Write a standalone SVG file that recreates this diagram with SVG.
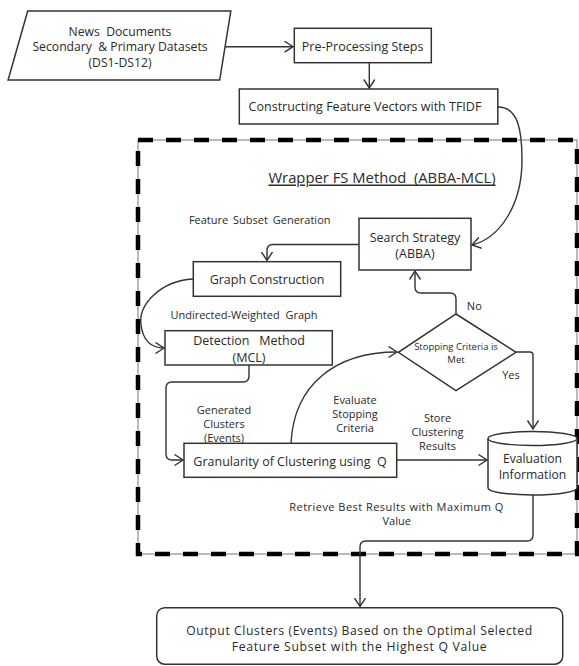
<svg xmlns="http://www.w3.org/2000/svg" width="579" height="666" viewBox="0 0 579 666">
<style>
text{font-family:"Open Sans","Noto Sans",sans-serif;fill:#2a2a2a;text-anchor:middle;dominant-baseline:central}
.b{font-size:12.5px}
.s{font-size:11px}
.d{font-size:9.5px}
.box{fill:#fff;stroke:#333;stroke-width:1.5}
.c{fill:none;stroke:#333;stroke-width:1.4}
</style>
<defs>
<marker id="a" markerUnits="userSpaceOnUse" markerWidth="12" markerHeight="14" refX="9" refY="6" orient="auto">
<path d="M0.5,0.5 L9,6 L0.5,11.5" fill="none" stroke="#333" stroke-width="1.4"/>
</marker>
</defs>
<rect fill="#fff" width="579" height="666"/>
<g id="wrapper-border">
<rect x="138" y="140" width="439" height="414" fill="none" stroke="#777" stroke-width="1"/>
<rect x="138" y="140" width="439" height="414" fill="none" stroke="#000" stroke-width="4.5" stroke-dasharray="15 13"/>
<text x="382" y="176.5" xml:space="preserve" style="font-size:14.8px;text-decoration:underline">Wrapper FS Method  (ABBA-MCL)</text>
</g>
<g id="connectors">
<path class="c" d="M221.5,46.7 H293" marker-end="url(#a)"/>
<path class="c" d="M369.3,62.7 V88" marker-end="url(#a)"/>
<path class="c" d="M498,107 C518,107 522,130 522,160 C522,205 500,238 472,245" marker-end="url(#a)"/>
<path class="c" d="M359,244.5 H273 Q267,244.5 267,250.5 V260.5" marker-end="url(#a)"/>
<path class="c" d="M193,279 C160,281 138,305 141,325 C143,340 150,348 164,348" marker-end="url(#a)"/>
<path class="c" d="M249,365 V376 Q249,382 243,382 H172 Q166,382 166,388 V454 Q166,460 172,460 H183" marker-end="url(#a)"/>
<path class="c" d="M291,443 C294,385 335,352 397,352" marker-end="url(#a)"/>
<path class="c" d="M397,460 H487" marker-end="url(#a)"/>
<path class="c" d="M456,314 V299 Q456,293 450,293 H421 Q415,293 415,287 V271" marker-end="url(#a)"/>
<path class="c" d="M516,352 H530 Q533,352 533,355 V429" marker-end="url(#a)"/>
<path class="c" d="M533,495 V535 Q533,541 527,541 H366 Q360,541 360,547 V606.5" marker-end="url(#a)"/>
</g>
<g id="news-documents">
<polygon class="box" points="27.7,11 230.8,11 219.7,80 8.1,80"/>
<text x="120" y="31" xml:space="preserve" style="font-size:12.2px">News  Documents</text>
<text x="120" y="46.7" xml:space="preserve" style="font-size:12.2px">Secondary  &amp; Primary Datasets</text>
<text x="120" y="62.4" style="font-size:12.2px">(DS1-DS12)</text>
</g>
<g id="pre-processing">
<rect class="box" x="294.3" y="28.3" width="137" height="34.4"/>
<text class="b" x="362.6" y="46.2">Pre-Processing Steps</text>
</g>
<g id="feature-vectors">
<rect class="box" x="239.3" y="89" width="258.5" height="35"/>
<text class="b" x="365" y="106.5">Constructing Feature Vectors with TFIDF</text>
</g>
<g id="search-strategy">
<rect class="box" x="359" y="218.3" width="112" height="51.7"/>
<text class="b" x="415" y="237">Search Strategy</text>
<text class="b" x="415" y="253.5">(ABBA)</text>
</g>
<g id="label-feature-subset">
<text class="s" x="259.7" y="219.3" style="word-spacing:2px">Feature Subset Generation</text>
</g>
<g id="graph-construction">
<rect class="box" x="193.3" y="261.7" width="147.4" height="34.6"/>
<text class="b" x="267" y="279">Graph Construction</text>
</g>
<g id="label-undirected">
<text class="s" x="244" y="314" style="word-spacing:3px">Undirected-Weighted  Graph</text>
</g>
<g id="detection-method">
<rect class="box" x="165" y="330.7" width="167.3" height="34.3"/>
<text class="b" x="249" y="340.5" xml:space="preserve">Detection   Method</text>
<text class="b" x="249" y="357.3">(MCL)</text>
</g>
<g id="stopping-criteria">
<polygon class="box" points="456,314 516,352.3 456,390.7 398.3,352.3"/>
<text class="d" x="456" y="346.8">Stopping Criteria is</text>
<text class="d" x="456" y="359.3">Met</text>
</g>
<g id="label-no"><text class="s" x="474.3" y="305.7">No</text></g>
<g id="label-yes"><text class="s" x="511" y="374">Yes</text></g>
<g id="label-generated">
<text class="s" x="224" y="409.3">Generated</text>
<text class="s" x="224" y="423.3">Clusters</text>
<text class="s" x="224" y="437.3">(Events)</text>
</g>
<g id="label-evaluate">
<text class="s" x="355" y="399.3">Evaluate</text>
<text class="s" x="355" y="413.3">Stopping</text>
<text class="s" x="355" y="427.3">Criteria</text>
</g>
<g id="label-store">
<text class="s" x="437.5" y="417.2">Store</text>
<text class="s" x="437.5" y="431.5">Clustering</text>
<text class="s" x="437.5" y="445.5">Results</text>
</g>
<g id="granularity">
<rect class="box" x="184" y="443.3" width="212.7" height="34"/>
<text class="b" x="290" y="461.2" xml:space="preserve">Granularity of Clustering using  Q</text>
</g>
<g id="evaluation-information">
<path class="box" d="M488,438.5 A44.5,7 0 0,1 577,438.5 V488 A44.5,7 0 0,1 488,488 Z"/>
<path class="c" d="M488,438.5 A44.5,7 0 0,0 577,438.5"/>
<text x="532.5" y="458.6" style="font-size:12.2px">Evaluation</text>
<text x="532.5" y="474.5" style="font-size:12.2px">Information</text>
</g>
<g id="label-retrieve">
<text class="s" x="396.3" y="506.7" textLength="214" lengthAdjust="spacing">Retrieve Best Results with Maximum Q</text>
<text class="s" x="396.7" y="520.5">Value</text>
</g>
<g id="output-clusters">
<rect class="box" x="156.7" y="607.7" width="406" height="56.5" rx="8" ry="8"/>
<text x="359.2" y="630.8" textLength="346" lengthAdjust="spacing" style="font-size:12.2px">Output Clusters (Events) Based on the Optimal Selected</text>
<text x="359.2" y="646.9" textLength="255" lengthAdjust="spacing" style="font-size:12.2px">Feature Subset with the Highest Q Value</text>
</g>
</svg>
